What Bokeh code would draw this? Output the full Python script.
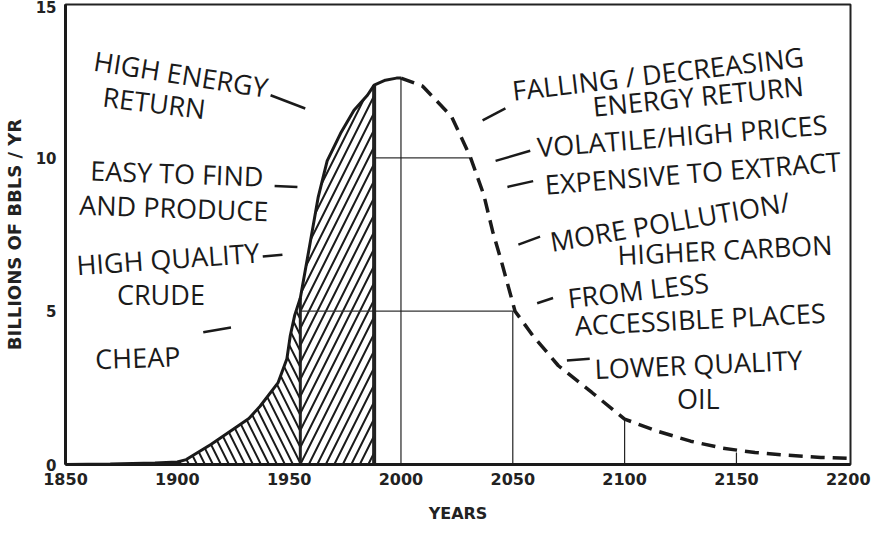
import numpy as np
from bokeh.plotting import figure
from bokeh.models import Range1d, FixedTicker, ColumnDataSource
from bokeh.core.properties import value
from bokeh.embed import file_html
from bokeh.resources import INLINE

# ---------------- data ----------------
hist_years = [1850, 1870, 1890, 1900, 1904, 1915, 1925, 1932, 1937, 1945, 1949,
              1950.5, 1952.5, 1955, 1959.5, 1963, 1967, 1973, 1979, 1985, 1988,
              1993, 1998, 2000]
hist_values = [0.0, 0.02, 0.05, 0.08, 0.16, 0.65, 1.15, 1.5, 1.9, 2.66, 3.45,
               4.2, 4.87, 5.43, 7.27, 8.72, 9.9, 10.8, 11.55, 12.04, 12.37,
               12.53, 12.6, 12.6]

proj_years = [2000, 2009.6, 2022.6, 2031, 2037, 2041, 2045, 2051, 2059, 2070.4,
              2085.5, 2100, 2114.5, 2129.5, 2144, 2158.3, 2173.2, 2187.8, 2200]
proj_values = [12.6, 12.34, 11.35, 10.03, 8.8, 7.6, 6.6, 5.0, 4.2, 3.22,
               2.34, 1.48, 1.09, 0.76, 0.53, 0.39, 0.3, 0.23, 0.2]

split_year = 1955      # change of hatch direction
present_year = 1988    # end of hatched (produced) area

ref_years = [1955, 1988, 2000, 2050, 2100, 2150]
ref_tops = [5.43, 12.37, 12.6, 5.0, 1.48, 0.39]
ref_widths = [3, 4, 1.2, 1.2, 1.2, 1.2]

hline_levels = [10, 5]
hline_starts = [1988, 1955]
hline_ends = [2031, 2051]

x_ticks = [1850, 1900, 1950, 2000, 2050, 2100, 2150, 2200]
y_ticks = [0, 5, 10, 15]

left_text = ["HIGH ENERGY", "RETURN", "EASY TO FIND", "AND PRODUCE",
             "HIGH QUALITY", "CRUDE", "CHEAP"]
left_x = [1862.8, 1866.8, 1861.1, 1856.2, 1854.9, 1873.0, 1863.3]
left_y = [13.19, 12.01, 9.6, 8.49, 6.51, 5.53, 3.45]
left_angle_deg = [-9, -7, -2, -2, 4, 0, 2]

right_text = ["FALLING / DECREASING", "ENERGY RETURN", "VOLATILE/HIGH PRICES",
              "EXPENSIVE TO EXTRACT", "MORE POLLUTION/", "HIGHER CARBON",
              "FROM LESS", "ACCESSIBLE PLACES", "LOWER QUALITY", "OIL"]
right_x = [2049.8, 2085.7, 2060.9, 2064.4, 2066.7, 2096.8, 2074.6, 2077.7,
           2086.6, 2123.4]
right_y = [12.2, 11.68, 10.36, 9.14, 7.27, 6.84, 5.43, 4.54, 3.13, 2.14]
right_angle_deg = [6.7, 5.7, 4.5, 4.5, 9.6, 2.8, 6.5, 3, 2.5, 0]

lead_x0 = [1941.7, 1943.5, 1938.2, 1911.6, 2036.5, 2042.3, 2047.6, 2052.5, 2060.9, 2074.2]
lead_y0 = [12.04, 9.08, 6.78, 4.31, 11.22, 9.9, 9.05, 7.17, 5.26, 3.39]
lead_x1 = [1957.2, 1953.7, 1947.0, 1924.0, 2046.7, 2057.8, 2059.1, 2062.2, 2068.0, 2084.4]
lead_y1 = [11.61, 9.05, 6.84, 4.47, 11.61, 10.23, 9.24, 7.43, 5.43, 3.45]

# ---------------- figure ----------------
p = figure(width=876, height=525, output_backend="svg", toolbar_location=None,
           x_range=Range1d(1850, 2201), y_range=Range1d(0, 15),
           min_border_left=58, min_border_right=26, min_border_top=4,
           min_border_bottom=60, background_fill_color="white",
           border_fill_color="white")
p.grid.visible = False
p.outline_line_color = "#222222"
p.outline_line_width = 2

hy = np.array(hist_years)
hv = np.array(hist_values)
m1 = (hy >= 1900) & (hy <= split_year)
m2 = (hy >= split_year) & (hy <= present_year)

p.varea(x=hy[m1], y1=np.zeros(m1.sum()), y2=hv[m1], fill_color="white",
        fill_alpha=0, hatch_pattern="\\", hatch_color="#1a1a1a",
        hatch_scale=16, hatch_weight=2)
p.varea(x=hy[m2], y1=np.zeros(m2.sum()), y2=hv[m2], fill_color="white",
        fill_alpha=0, hatch_pattern="/", hatch_color="#1a1a1a",
        hatch_scale=17, hatch_weight=2)

# reference lines
p.segment(x0=hline_starts, y0=hline_levels, x1=hline_ends, y1=hline_levels,
          line_color="#333333", line_width=1.2)
p.segment(x0=ref_years, y0=[0] * len(ref_years), x1=ref_years, y1=ref_tops,
          line_color="#222222", line_width=ref_widths)

# curve
p.line(hist_years, hist_values, line_color="#1a1a1a", line_width=3)
p.line(proj_years, proj_values, line_color="#1a1a1a", line_width=3.5,
       line_dash="14 8")

# annotations
lsrc = ColumnDataSource(dict(x=left_x, y=left_y, text=left_text,
                             angle=np.radians(left_angle_deg)))
p.text(x="x", y="y", text="text", angle="angle", source=lsrc,
       text_font=value("Open Sans"), text_font_size="27px",
       text_color="#1a1a1a", text_baseline="alphabetic", text_align="left")
rsrc = ColumnDataSource(dict(x=right_x, y=right_y, text=right_text,
                             angle=np.radians(right_angle_deg)))
p.text(x="x", y="y", text="text", angle="angle", source=rsrc,
       text_font=value("Open Sans"), text_font_size="27px",
       text_color="#1a1a1a", text_baseline="alphabetic", text_align="left")
p.segment(x0=lead_x0, y0=lead_y0, x1=lead_x1, y1=lead_y1,
          line_color="#1a1a1a", line_width=2.5)

# axes
for ax in (p.xaxis[0], p.yaxis[0]):
    ax.axis_line_width = 3
    ax.axis_line_color = "#1a1a1a"
    ax.major_tick_out = 0
    ax.major_tick_in = 0
    ax.minor_tick_out = 0
    ax.minor_tick_in = 0
    ax.major_label_text_font = "DejaVu Sans"
    ax.major_label_text_font_style = "bold"
    ax.major_label_text_color = "#222222"
    ax.axis_label_text_font = "DejaVu Sans"
    ax.axis_label_text_font_style = "bold"
    ax.axis_label_text_color = "#222222"

p.xaxis.ticker = FixedTicker(ticks=x_ticks)
p.yaxis.ticker = FixedTicker(ticks=y_ticks)
p.xaxis.major_label_text_font_size = "16px"
p.yaxis.major_label_text_font_size = "15px"
p.xaxis.major_label_standoff = 8
p.yaxis.major_label_standoff = 9
p.xaxis.axis_label = "YEARS"
p.yaxis.axis_label = "BILLIONS OF BBLS / YR"
p.xaxis.axis_label_text_font_size = "16px"
p.yaxis.axis_label_text_font_size = "18px"
p.xaxis.axis_label_standoff = 16
p.yaxis.axis_label_standoff = 8

open("out.html", "w").write(file_html(p, INLINE))
